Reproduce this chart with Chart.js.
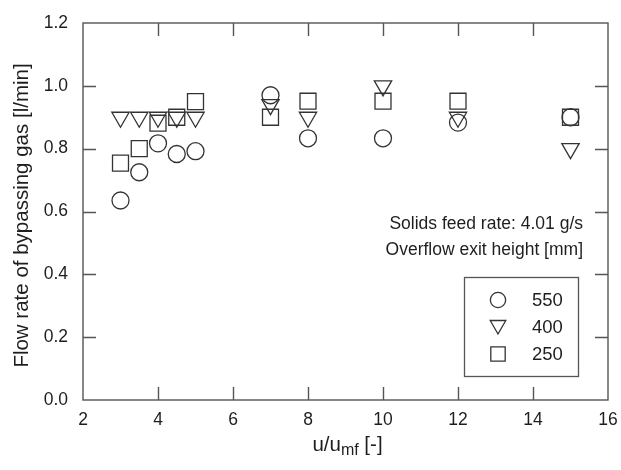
<!DOCTYPE html>
<html>
<head>
<meta charset="utf-8">
<script src="https://cdn.jsdelivr.net/npm/chart.js@4.4.1/dist/chart.umd.min.js"></script>
<style>
  html, body { margin: 0; padding: 0; background: #fff; }
  #wrap { width: 621px; height: 470px; }
</style>
</head>
<body>
<div id="wrap"><canvas id="c" width="621" height="470"></canvas></div>
<script>
// u/umf values shared by all three overflow heights
const velocityRatio = [3, 3.5, 4, 4.5, 5, 7, 8, 10, 12, 15];
// bypassing gas flow [l/min] per overflow exit height
const flow550 = [0.635, 0.725, 0.817, 0.783, 0.792, 0.97, 0.833, 0.833, 0.883, 0.90];
const flow400 = [0.90, 0.90, 0.90, 0.90, 0.90, 0.94, 0.90, 1.00, 0.90, 0.80];
const flow250 = [0.754, 0.80, 0.881, 0.90, 0.95, 0.90, 0.951, 0.951, 0.951, 0.90];
const heightLabels = ['550', '400', '250'];
const xRange = [2, 16];
const yRange = [0, 1.2];

const INK = '#1e1e1e';
const FRAME = '#555';
const FONT = '"Liberation Sans", Arial, sans-serif';

const styles = [
    { pointStyle: 'circle', radius: 8.5, rotation: 0 },
    { pointStyle: 'triangle', radius: 10, rotation: 180 },
    { pointStyle: 'rect', radius: 11.3, rotation: 0 }
];
const series = [flow550, flow400, flow250];

const datasets = series.map((vals, i) => ({
    label: heightLabels[i],
    data: velocityRatio.map((x, j) => ({ x, y: vals[j] })),
    pointStyle: styles[i].pointStyle,
    pointRotation: styles[i].rotation,
    pointRadius: styles[i].radius,
    pointHoverRadius: styles[i].radius,
    pointBorderWidth: 1.3,
    borderColor: '#333',
    backgroundColor: 'rgba(0,0,0,0)',
    showLine: false
}));

// frame, inward ticks, annotations, legend and axis titles
const decor = {
    id: 'decor',
    beforeDatasetsDraw(chart) {
        const { ctx, chartArea: a, scales: { x, y } } = chart;
        ctx.save();
        ctx.strokeStyle = FRAME;
        ctx.lineWidth = 1.4;
        ctx.strokeRect(a.left, a.top, a.right - a.left, a.bottom - a.top);
        const len = 13;
        ctx.beginPath();
        x.ticks.forEach(t => {
            if (t.value <= xRange[0] || t.value >= xRange[1]) return;
            const px = Math.round(x.getPixelForValue(t.value)) + 0.5;
            ctx.moveTo(px, a.bottom); ctx.lineTo(px, a.bottom - len);
            ctx.moveTo(px, a.top); ctx.lineTo(px, a.top + len);
        });
        y.ticks.forEach(t => {
            if (t.value <= yRange[0] + 1e-9 || t.value >= yRange[1] - 1e-9) return;
            const py = Math.round(y.getPixelForValue(t.value)) + 0.5;
            ctx.moveTo(a.left, py); ctx.lineTo(a.left + len, py);
            ctx.moveTo(a.right, py); ctx.lineTo(a.right - len, py);
        });
        ctx.stroke();
        ctx.restore();
    },
    afterDraw(chart) {
        const { ctx, chartArea: a } = chart;
        ctx.save();
        ctx.fillStyle = INK;
        ctx.font = '17.5px ' + FONT;
        ctx.textBaseline = 'middle';

        // notes
        ctx.textAlign = 'right';
        ctx.fillText('Solids feed rate: 4.01 g/s', 583, 224);
        ctx.fillText('Overflow exit height [mm]', 583, 250);

        // legend box
        ctx.strokeStyle = FRAME;
        ctx.lineWidth = 1.3;
        ctx.strokeRect(464.5, 277.5, 114, 99);
        const rows = [300, 327, 354];
        ctx.textAlign = 'left';
        ctx.font = '18.5px ' + FONT;
        rows.forEach((ry, i) => {
            const s = styles[i];
            ctx.save();
            ctx.strokeStyle = '#333';
            ctx.fillStyle = 'rgba(0,0,0,0)';
            ctx.lineWidth = 1.3;
            Chart.helpers.drawPoint(ctx, {
                pointStyle: s.pointStyle, rotation: s.rotation,
                radius: s.radius * 0.9, borderWidth: 1.3
            }, 498, ry + (s.pointStyle === 'triangle' ? -2 : 0));
            ctx.restore();
            ctx.fillText(heightLabels[i], 532, ry + 1);
        });

        // y title
        ctx.font = '20.5px ' + FONT;
        ctx.textAlign = 'center';
        ctx.save();
        ctx.translate(22, (a.top + a.bottom) / 2 + 4);
        ctx.rotate(-Math.PI / 2);
        ctx.fillText('Flow rate of bypassing gas [l/min]', 0, 0);
        ctx.restore();

        // x title with subscript
        const cx = (a.left + a.right) / 2 + 2;
        const ty = 445;
        const p1 = 'u/u', sub = 'mf', p2 = ' [-]';
        ctx.font = '20.5px ' + FONT;
        const w1 = ctx.measureText(p1).width, w3 = ctx.measureText(p2).width;
        ctx.font = '16px ' + FONT;
        const w2 = ctx.measureText(sub).width;
        const sx = cx - (w1 + w2 + w3) / 2;
        ctx.textAlign = 'left';
        ctx.font = '20.5px ' + FONT;
        ctx.fillText(p1, sx, ty);
        ctx.font = '16px ' + FONT;
        ctx.fillText(sub, sx + w1, ty + 6);
        ctx.font = '20.5px ' + FONT;
        ctx.fillText(p2, sx + w1 + w2, ty);
        ctx.restore();
    }
};

new Chart(document.getElementById('c'), {
    type: 'scatter',
    data: { datasets },
    options: {
        responsive: false,
        animation: false,
        events: [],
        layout: { padding: { top: 23, right: 13, left: 0, bottom: 0 } },
        plugins: { legend: { display: false }, tooltip: { enabled: false } },
        scales: {
            x: {
                type: 'linear', min: xRange[0], max: xRange[1],
                grid: { display: false }, border: { display: false },
                ticks: { stepSize: 2, color: INK, padding: 2, maxRotation: 0,
                         font: { family: FONT, size: 17.5 } },
                afterFit(s) { s.height = 70; }
            },
            y: {
                type: 'linear', min: yRange[0], max: yRange[1],
                grid: { display: false }, border: { display: false },
                ticks: { stepSize: 0.2, color: INK, padding: 7,
                         font: { family: FONT, size: 17.5 },
                         callback: v => v.toFixed(1) },
                afterFit(s) { s.width = 83; }
            }
        }
    },
    plugins: [decor]
});
</script>
</body>
</html>
